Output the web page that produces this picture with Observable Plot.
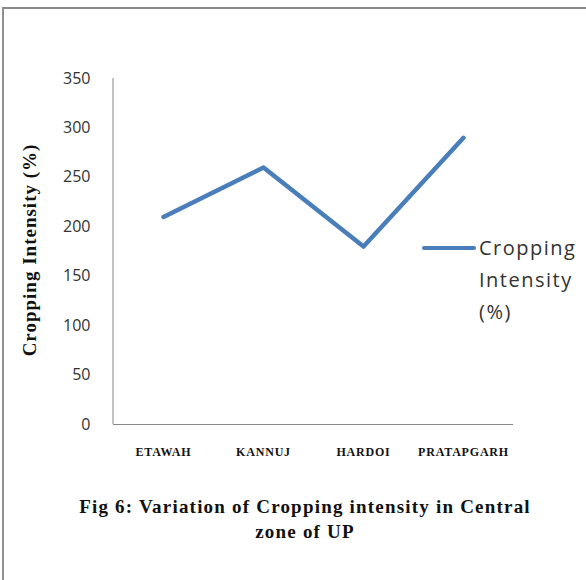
<!DOCTYPE html>
<html>
<head>
<meta charset="utf-8">
<script src="https://cdn.jsdelivr.net/npm/d3@7"></script>
<script src="https://cdn.jsdelivr.net/npm/@observablehq/plot@0.6"></script>
<style>
  html, body { margin: 0; padding: 0; background: #fff; }
  #wrap { position: relative; width: 586px; height: 580px; overflow: hidden; background: #fff; }
  #border { position: absolute; left: 2px; top: 7px; width: 700px; height: 700px;
            border-left: 2px solid #919191; border-top: 2px solid #8a8a8a; }
  #chart { position: absolute; left: 0; top: 0; }
  #ytitle { position: absolute; left: 30px; top: 250px; transform: translate(-50%, -50%) rotate(-90deg);
            white-space: nowrap; font: bold 19px "Liberation Serif", serif; letter-spacing: 1px; color: #111; }
  #legend-line { position: absolute; left: 422px; top: 246px; width: 54px; height: 4px;
                 background: #4a7ebb; border-radius: 2px; }
  #legend-text { position: absolute; left: 479px; top: 232px; font: 20px "Open Sans", sans-serif;
                 letter-spacing: 1.5px; line-height: 32px; color: #333; }
  #caption { position: absolute; left: 0; width: 610px; top: 494px; text-align: center;
             font: bold 19px "Liberation Serif", serif; line-height: 25px; color: #111; letter-spacing: 1.2px; }
</style>
</head>
<body>
<div id="wrap">
  <div id="border"></div>
  <div id="chart"></div>
  <div id="ytitle"></div>
  <div id="legend-line"></div>
  <div id="legend-text"></div>
  <div id="caption"></div>
</div>
<script>
const districts = ["ETAWAH", "KANNUJ", "HARDOI", "PRATAPGARH"];
const croppingIntensity = [210, 260, 180, 290];
const yTicks = [0, 50, 100, 150, 200, 250, 300, 350];
const seriesName = "Cropping Intensity (%)";
const yTitle = "Cropping Intensity (%)";
const captionLines = ["Fig 6: Variation of Cropping intensity in Central", "zone of UP"];

const data = districts.map((d, i) => ({district: d, value: croppingIntensity[i]}));

const yAxisLine = (index, scales, values, dims) => {
  const line = d3.create("svg:line")
    .attr("x1", dims.marginLeft).attr("x2", dims.marginLeft)
    .attr("y1", dims.marginTop).attr("y2", dims.height - dims.marginBottom)
    .attr("stroke", "#888888").attr("stroke-width", 1);
  return line.node();
};

const chart = Plot.plot({
  width: 586,
  height: 470,
  marginLeft: 113,
  marginRight: 73,
  marginTop: 78,
  marginBottom: 46,
  style: {background: "transparent", overflow: "visible"},
  x: {type: "point", domain: districts, padding: 0.5},
  y: {domain: [0, 350]},
  marks: [
    Plot.axisY({ticks: yTicks, tickSize: 0, tickPadding: 23, fontSize: 16, fontFamily: "Open Sans",
                fill: "#333", label: null, tickFormat: d => String(d)}),
    Plot.axisX({tickSize: 0, tickPadding: 23, fontSize: 12, fontWeight: "bold",
                fontFamily: "Liberation Serif", fill: "#111", label: null,
                style: {letterSpacing: "0.8px"}}),
    Plot.ruleY([0], {stroke: "#888888"}),
    yAxisLine,
    Plot.lineY(data, {x: "district", y: "value", stroke: "#4a7ebb", strokeWidth: 4.5,
                      strokeLinejoin: "round", strokeLinecap: "round"})
  ]
});
document.getElementById("chart").appendChild(chart);
chart.querySelectorAll('g[aria-label="x-axis tick label"] text').forEach(t => t.style.letterSpacing = "0.8px");
document.getElementById("ytitle").textContent = yTitle;
document.getElementById("legend-text").innerHTML = seriesName.split(" ").join("<br>");
document.getElementById("caption").innerHTML = captionLines.join("<br>");
</script>
</body>
</html>
